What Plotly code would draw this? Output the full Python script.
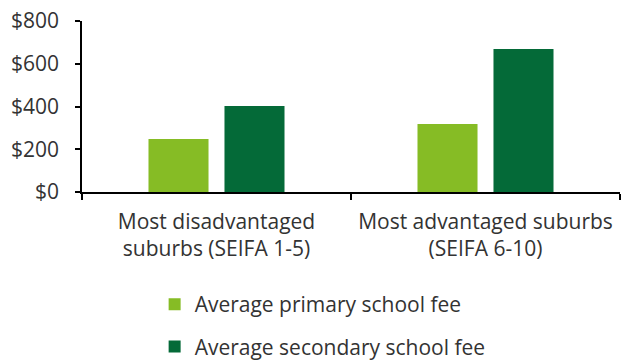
import plotly.graph_objects as go

categories = ["Most disadvantaged<br>suburbs (SEIFA 1-5)", "Most advantaged suburbs<br>(SEIFA 6-10)"]
primary_fee = [248, 318]
secondary_fee = [402, 669]
y_ticks = [0, 200, 400, 600, 800]
y_tick_labels = ["$0", "$200", "$400", "$600", "$800"]

font_family = "Open Sans"
text_color = "#333333"
fs = 21

fig = go.Figure()
fig.add_trace(go.Bar(x=categories, y=primary_fee, name="Average primary school fee",
                     marker=dict(color="#86BC25", line=dict(width=0)), legendgroup="a"))
fig.add_trace(go.Bar(x=categories, y=secondary_fee, name="Average secondary school fee",
                     marker=dict(color="#046A38", line=dict(width=0)), legendgroup="b"))

fig.update_layout(
    width=627, height=360,
    margin=dict(l=82, r=7, t=21, b=168, autoexpand=False),
    plot_bgcolor="white", paper_bgcolor="white",
    barmode="group", bargap=0.435, bargroupgap=0.21,
    font=dict(family=font_family, size=fs, color=text_color),
    xaxis=dict(showline=True, linecolor="black", linewidth=1.5,
               ticks="outside", tickson="boundaries", ticklen=6, tickcolor="black", tickwidth=1.5,
               ticklabelstandoff=10,
               showgrid=False, tickfont=dict(size=fs, color=text_color)),
    yaxis=dict(range=[0, 800], tickvals=y_ticks, ticktext=y_tick_labels,
               showline=True, linecolor="black", linewidth=1.5,
               ticks="outside", ticklen=5, tickcolor="black", tickwidth=1.5,
               ticklabelstandoff=12,
               showgrid=False, zeroline=False, tickfont=dict(size=fs, color=text_color)),
    legend=dict(x=0.135, y=-0.538, xanchor="left", yanchor="top",
                font=dict(family=font_family, size=fs, color=text_color),
                bgcolor="rgba(0,0,0,0)", borderwidth=0, itemwidth=30,
                traceorder="grouped", tracegroupgap=12, orientation="v"),
)

fig.write_html("out.html")
